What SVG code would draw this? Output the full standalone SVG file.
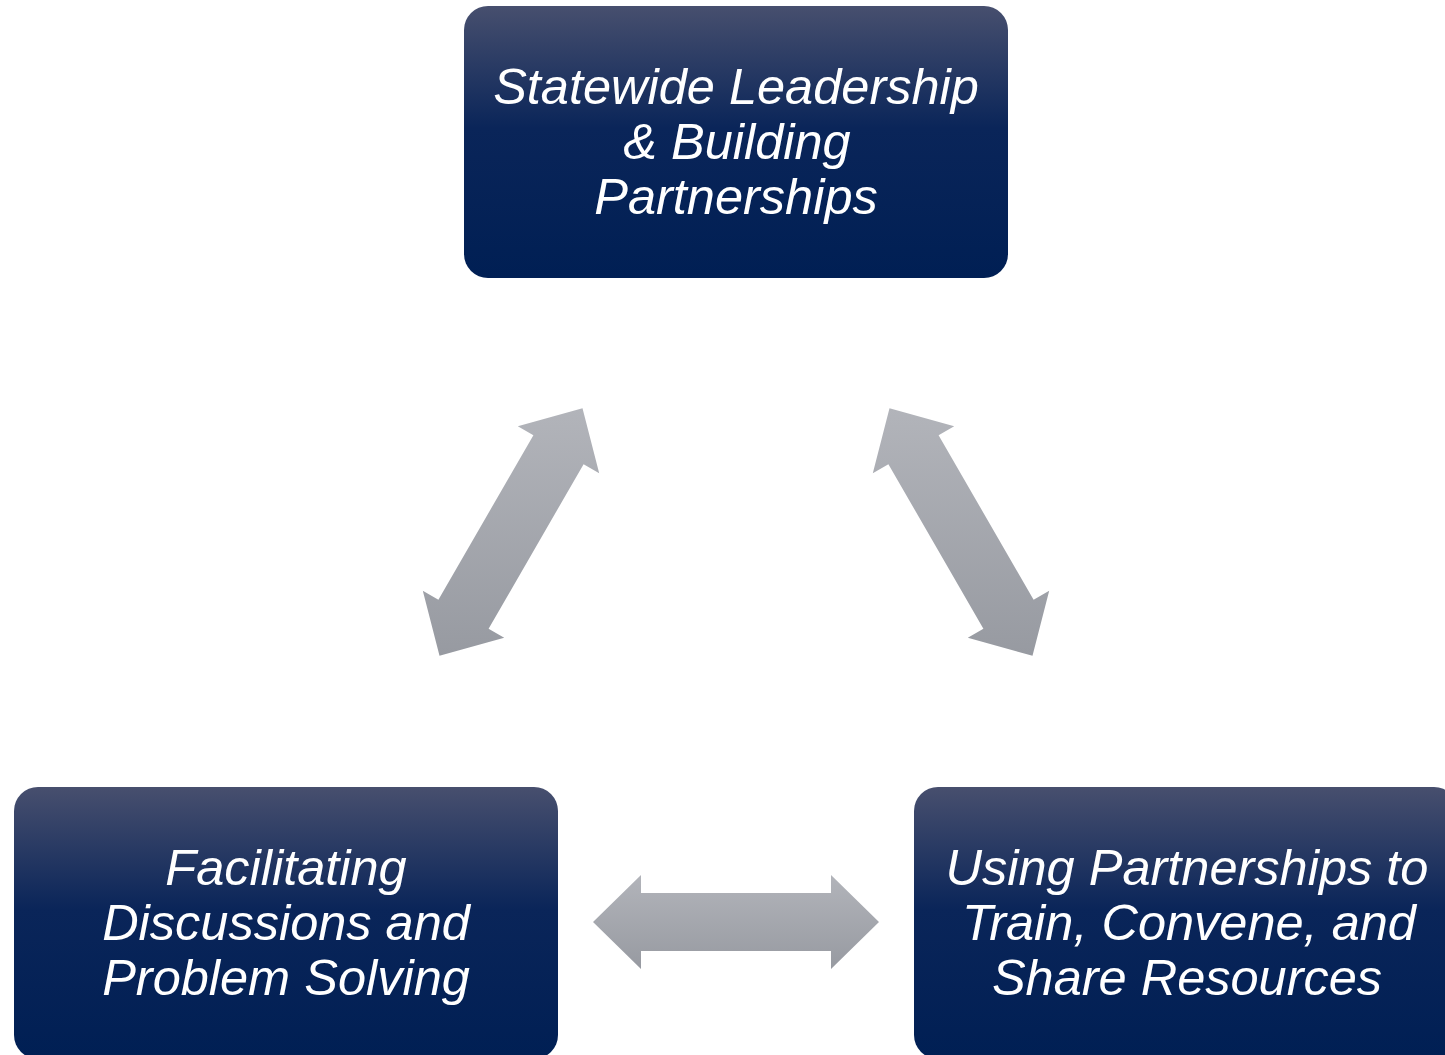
<svg xmlns="http://www.w3.org/2000/svg" width="1445" height="1055" viewBox="0 0 1445 1055">
  <defs>
    <linearGradient id="boxGrad" x1="0" y1="0" x2="0" y2="1">
      <stop offset="0" stop-color="#474f6e"/>
      <stop offset="0.45" stop-color="#0a2559"/>
      <stop offset="1" stop-color="#001f54"/>
    </linearGradient>
    <linearGradient id="arrowGrad" x1="0" y1="0" x2="0" y2="1">
      <stop offset="0" stop-color="#b2b4ba"/>
      <stop offset="1" stop-color="#979aa1"/>
    </linearGradient>
    <style>
      .box { fill: url(#boxGrad); }
      .arrow { fill: url(#arrowGrad); }
      .label { font-family: "Liberation Sans", Arial, sans-serif; font-style: italic; font-size: 50.5px; fill: #ffffff; text-anchor: middle; }
    </style>
  </defs>
  <rect width="1445" height="1055" fill="#ffffff"/>

  <g id="connectors">
    <polygon class="arrow" points="439.5,655.8 422.8,590.8 438.4,599.8 533.4,435.2 517.8,426.2 582.5,408.2 599.2,473.2 583.6,464.2 488.6,628.8 504.2,637.8"/>
    <polygon class="arrow" points="1032.5,655.8 1049.2,590.8 1033.6,599.8 938.6,435.2 954.2,426.2 889.5,408.2 872.8,473.2 888.4,464.2 983.4,628.8 967.8,637.8"/>
    <polygon class="arrow" points="593,922 641,875 641,893 831,893 831,875 879,922 831,969 831,951 641,951 641,969"/>
  </g>

  <g id="node-statewide">
    <rect class="box" x="464" y="6" width="544" height="272" rx="24" ry="24"/>
    <text class="label" x="736" y="104">Statewide Leadership</text>
    <text class="label" x="737" y="159">&amp; Building</text>
    <text class="label" x="736" y="214">Partnerships</text>
  </g>

  <g id="node-facilitating">
    <rect class="box" x="14" y="787" width="544" height="272" rx="24" ry="24"/>
    <text class="label" x="286" y="885">Facilitating</text>
    <text class="label" x="286" y="940">Discussions and</text>
    <text class="label" x="286" y="995">Problem Solving</text>
  </g>

  <g id="node-using">
    <rect class="box" x="914" y="787" width="544" height="272" rx="24" ry="24"/>
    <text class="label" x="1187" y="885">Using Partnerships to</text>
    <text class="label" x="1189" y="940">Train, Convene, and</text>
    <text class="label" x="1187" y="995">Share Resources</text>
  </g>
</svg>
